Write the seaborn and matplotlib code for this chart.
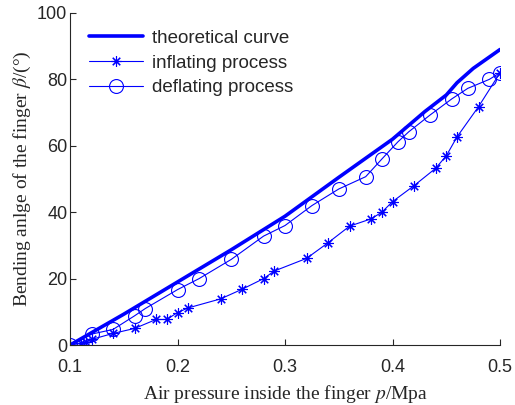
import matplotlib
matplotlib.use("Agg")
import matplotlib.pyplot as plt
import seaborn as sns
import pandas as pd

# theoretical curve
theory_p = [0.10, 0.15, 0.20, 0.25, 0.30, 0.35, 0.40, 0.43, 0.45, 0.46, 0.475, 0.50]
theory_beta = [0, 9.3, 19.0, 28.7, 38.8, 50.5, 62.0, 70.3, 75.3, 79.0, 83.3, 89.0]

# inflating process
inflate_p = [0.10, 0.11, 0.115, 0.12, 0.14, 0.16, 0.18, 0.19, 0.20, 0.21, 0.24, 0.26, 0.28,
             0.29, 0.32, 0.34, 0.36, 0.38, 0.39, 0.40, 0.42, 0.44, 0.45, 0.46, 0.48, 0.50]
inflate_beta = [0, 0.5, 1.0, 1.7, 3.5, 5.0, 7.7, 7.7, 9.8, 11.2, 13.9, 16.8, 20.0,
                22.3, 26.1, 30.8, 35.8, 38.0, 40.0, 43.2, 48.0, 53.2, 57.0, 62.7, 71.8, 82.0]

# deflating process
deflate_p = [0.10, 0.12, 0.14, 0.16, 0.17, 0.20, 0.22, 0.25, 0.28, 0.30, 0.325, 0.35, 0.375,
             0.39, 0.405, 0.415, 0.435, 0.455, 0.47, 0.49, 0.50]
deflate_beta = [0, 3.3, 4.7, 8.8, 11.0, 16.7, 20.0, 25.8, 32.8, 36.0, 42.0, 47.0, 50.7,
                56.0, 61.2, 64.2, 69.3, 74.1, 77.3, 80.0, 82.0]

x_ticks = [0.1, 0.2, 0.3, 0.4, 0.5]
y_ticks = [0, 20, 40, 60, 80, 100]

sns.set_style("ticks")
plt.rcParams['font.family'] = ['Liberation Sans', 'DejaVu Sans']
plt.rcParams['mathtext.fontset'] = 'stix'

theory_df = pd.DataFrame({'p': theory_p, 'beta': theory_beta})
inflate_df = pd.DataFrame({'p': inflate_p, 'beta': inflate_beta})
deflate_df = pd.DataFrame({'p': deflate_p, 'beta': deflate_beta})

fig = plt.figure(figsize=(5.15, 4.05), dpi=100)
ax = fig.add_axes([0.136, 0.148, 0.835, 0.82])

blue = '#0000ff'
sns.lineplot(data=theory_df, x='p', y='beta', ax=ax, color=blue, linewidth=2.6,
             estimator=None, sort=False, label='theoretical curve')
sns.lineplot(data=inflate_df, x='p', y='beta', ax=ax, color=blue, linewidth=0.8,
             marker=(8, 2, 0), markersize=7.5, markeredgewidth=0.8, markeredgecolor=blue,
             estimator=None, sort=False, label='inflating process')
sns.lineplot(data=deflate_df, x='p', y='beta', ax=ax, color=blue, linewidth=0.8,
             marker='o', markersize=10, markerfacecolor='none', markeredgewidth=0.8,
             markeredgecolor=blue, estimator=None, sort=False, label='deflating process')

ax.set_xlim(0.1, 0.5)
ax.set_ylim(0, 100)
ax.set_xticks(x_ticks)
ax.set_xticklabels([f"{t:.1f}" for t in x_ticks])
ax.set_yticks(y_ticks)
ax.set_yticklabels([str(t) for t in y_ticks])
ax.tick_params(direction='in', length=4, width=0.8, labelsize=13)
ax.tick_params(axis='x', pad=10)
ax.tick_params(axis='y', pad=2)
for s in ['top', 'right']:
    ax.spines[s].set_visible(False)
for s in ['left', 'bottom']:
    ax.spines[s].set_linewidth(0.8)

ax.set_xlabel("Air pressure inside the finger $p$/Mpa", fontsize=14,
              family='Liberation Serif', labelpad=5)
ax.set_ylabel(r"Bending anlge of the finger $\beta$/(°)", fontsize=14,
              family='Liberation Serif', labelpad=3)

leg = ax.legend(loc='upper left', frameon=False, fontsize=13.5, handlelength=2.9,
                handletextpad=0.45, labelspacing=0.4, bbox_to_anchor=(0.005, 1.0))

fig.savefig("out.png", dpi=100)
